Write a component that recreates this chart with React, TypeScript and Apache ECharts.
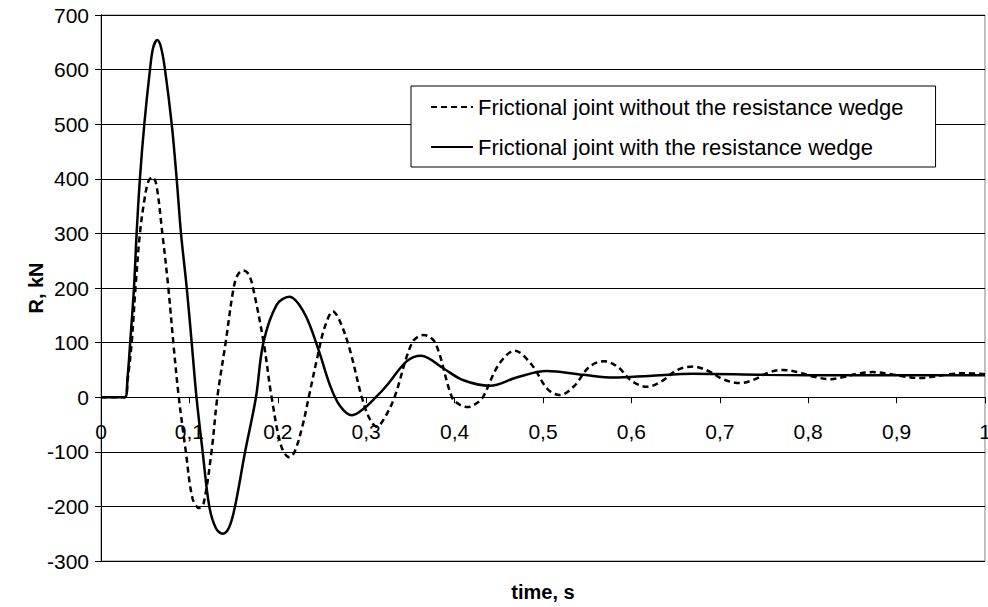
import React, { useEffect, useRef } from "react";
import * as echarts from "echarts";

// Frictional joint WITHOUT the resistance wedge (dashed)
const timeWithout = [
  0, 0.027, 0.030, 0.0347, 0.039, 0.044, 0.049, 0.0535, 0.058, 0.0625, 0.0694, 0.0762, 0.0818, 0.088,
  0.096, 0.1035, 0.111, 0.116, 0.125, 0.1316, 0.141, 0.150, 0.155, 0.161, 0.167, 0.172, 0.184, 0.193,
  0.204, 0.213, 0.219, 0.228, 0.235, 0.245, 0.253, 0.2625, 0.270, 0.281, 0.295, 0.304, 0.312, 0.320,
  0.332, 0.352, 0.365, 0.378, 0.397, 0.406, 0.415, 0.424, 0.432, 0.450, 0.468, 0.487, 0.505, 0.519,
  0.535, 0.552, 0.569, 0.585, 0.600, 0.618, 0.635, 0.652, 0.670, 0.687, 0.705, 0.723, 0.740, 0.755,
  0.771, 0.788, 0.805, 0.825, 0.840, 0.856, 0.873, 0.890, 0.908, 0.927, 0.943, 0.960, 0.977, 1.0,
];
const rWithout = [
  0, 0, 30, 100, 200, 300, 360, 395, 403, 390, 300, 200, 100, 0,
  -100, -185, -203, -195, -100, 0, 100, 200, 225, 232, 225, 200, 100, 0,
  -90, -110, -100, -52, 0, 75, 128, 157, 140, 90, 0, -40, -54, -40,
  0, 100, 114, 100, 0, -14, -18, -12, 0, 60, 85, 60, 15, 4,
  20, 55, 66, 55, 30, 19, 30, 50, 56, 48, 32, 26, 33, 45,
  50, 46, 38, 33, 37, 43, 46, 43, 38, 35, 38, 42, 44, 42,
];

// Frictional joint WITH the resistance wedge (solid)
const timeWith = [
  0, 0.027, 0.030, 0.033, 0.0373, 0.0403, 0.044, 0.049, 0.0554, 0.059, 0.0637, 0.068, 0.0724, 0.080,
  0.0856, 0.0905, 0.097, 0.1026, 0.108, 0.115, 0.1225, 0.130, 0.1376, 0.145, 0.1516, 0.163, 0.1753,
  0.1836, 0.1987, 0.213, 0.230, 0.246, 0.259, 0.270, 0.284, 0.298, 0.311, 0.323, 0.346, 0.362, 0.387,
  0.410, 0.440, 0.470, 0.504, 0.546, 0.580, 0.620, 0.670, 0.750, 0.850, 1.0,
];
const rWith = [
  0, 0, 35, 100, 200, 300, 400, 500, 600, 640, 654, 640, 600, 500,
  400, 300, 200, 100, 0, -100, -200, -240, -250, -238, -200, -100, 0,
  99, 169, 184, 154, 87, 22, -15, -33, -20, 0, 21, 66, 76, 53,
  31, 21, 36, 48, 41, 36, 39, 43, 41, 40, 40,
];

const yTicks = { min: -300, max: 700, step: 100 };
const xTicks = { min: 0, max: 1, step: 0.1 };

const nameWithout = "Frictional joint without the resistance wedge";
const nameWith = "Frictional joint with the resistance wedge";

const FONT = "'Liberation Sans', Arial, sans-serif";

const GRID_TOP = 15;
const GRID_BOTTOM = 46;
const CHART_H = 607;

export default function App() {
  const ref = useRef<HTMLDivElement>(null);

  useEffect(() => {
    if (!ref.current) return;
    const chart = echarts.init(ref.current, undefined, { renderer: "svg" });
    const dataWithout = timeWithout.map((t, i) => [t, rWithout[i]]);
    const dataWith = timeWith.map((t, i) => [t, rWith[i]]);

    // distance (px) from the grid bottom up to the R = 0 line
    const plotH = CHART_H - GRID_TOP - GRID_BOTTOM;
    const zeroOffset = (plotH * (0 - yTicks.min)) / (yTicks.max - yTicks.min);

    chart.setOption({
      animation: false,
      backgroundColor: "#ffffff",
      textStyle: { fontFamily: FONT },
      grid: {
        left: 101,
        right: 3,
        top: GRID_TOP,
        bottom: GRID_BOTTOM,
        show: true,
        borderColor: "#808080",
        borderWidth: 1,
        containLabel: false,
        outerBoundsMode: "none",
      },
      legend: {
        orient: "vertical",
        left: 411,
        top: 86,
        padding: [10, 32, 9, 19],
        itemGap: 18,
        itemWidth: 42,
        itemHeight: 14,
        backgroundColor: "#ffffff",
        borderColor: "#000000",
        borderWidth: 1,
        borderRadius: 0,
        itemStyle: { opacity: 0, borderWidth: 0 },
        textStyle: { fontSize: 22, color: "#000", fontFamily: FONT, width: 440, overflow: "none" },
        data: [nameWithout, nameWith],
      },
      xAxis: {
        type: "value",
        position: "bottom",
        offset: -zeroOffset,
        min: xTicks.min,
        max: xTicks.max,
        interval: xTicks.step,
        name: "time, s",
        nameLocation: "middle",
        nameGap: 185,
        nameMoveOverlap: false,
        nameTextStyle: { fontSize: 20, fontWeight: "bold", color: "#000", fontFamily: FONT },
        axisLine: { onZero: false, lineStyle: { color: "#000", width: 1 } },
        axisTick: { show: true, length: 6, lineStyle: { color: "#000" } },
        axisLabel: {
          fontSize: 21,
          color: "#000",
          margin: 24,
          fontFamily: FONT,
          formatter: (v: number) => String(Math.round(v * 10) / 10).replace(".", ","),
        },
        splitLine: { show: false },
      },
      yAxis: {
        type: "value",
        min: yTicks.min,
        max: yTicks.max,
        interval: yTicks.step,
        name: "R, kN",
        nameLocation: "middle",
        nameRotate: 90,
        nameGap: 55,
        nameMoveOverlap: false,
        nameTextStyle: { fontSize: 20, fontWeight: "bold", color: "#000", fontFamily: FONT },
        axisLine: { show: true, onZero: false, lineStyle: { color: "#000", width: 1 } },
        axisTick: { show: true, length: 6, lineStyle: { color: "#000" } },
        axisLabel: { fontSize: 21, color: "#000", margin: 12, fontFamily: FONT },
        splitLine: { show: true, lineStyle: { color: "#000", width: 1 } },
      },
      series: [
        {
          name: nameWithout,
          type: "line",
          data: dataWithout,
          showSymbol: false,
          symbol: "none",
          smooth: 0.35,
          lineStyle: { color: "#000", width: 2.5, type: [6, 4] },
          itemStyle: { color: "#000" },
          z: 3,
        },
        {
          name: nameWith,
          type: "line",
          data: dataWith,
          showSymbol: false,
          symbol: "none",
          smooth: 0.35,
          lineStyle: { color: "#000", width: 2.5, type: "solid" },
          itemStyle: { color: "#000" },
          z: 4,
        },
      ],
    });
    return () => chart.dispose();
  }, []);

  return (
    <div
      ref={ref}
      style={{ position: "fixed", left: 0, top: 0, width: 988, height: 607, background: "#fff" }}
    />
  );
}
